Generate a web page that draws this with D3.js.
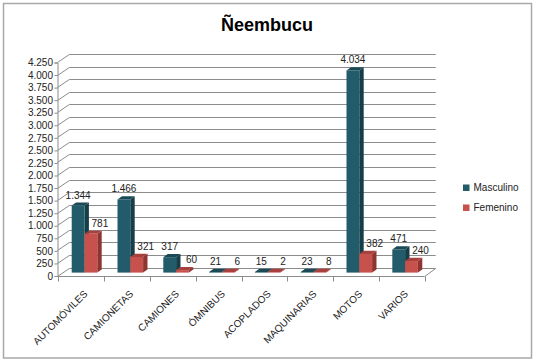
<!DOCTYPE html>
<html>
<head>
<meta charset="utf-8">
<script src="https://d3js.org/d3.v7.min.js"></script>
<style>
  body { margin: 0; background: #fff; }
  svg text { font-family: "Liberation Sans", Arial, sans-serif; }
</style>
</head>
<body>
<div id="chart"></div>
<script>
// data
var categories = ["AUTOMÓVILES", "CAMIONETAS", "CAMIONES", "ÓMNIBUS", "ACOPLADOS", "MAQUINARIAS", "MOTOS", "VARIOS"];
var masculino = [1344, 1466, 317, 21, 15, 23, 4034, 471];
var femenino = [781, 321, 60, 6, 2, 8, 382, 240];
var seriesNames = ["Masculino", "Femenino"];
var yTicks = d3.range(0, 4251, 250);

var width = 535, height = 361;

// 3d depth of the floor / walls
var DX = 11, DY = -8;
var f0 = 0.3, f1 = 0.7; // bar depth fraction

var colors = {
  Masculino: { front: "#225b6a", side: "#163e49", top: "#1b4a57" },
  Femenino:  { front: "#c6514d", side: "#8e3532", top: "#a8413e" }
};

var loc = d3.formatLocale({ decimal: ",", thousands: ".", grouping: [3], currency: ["", ""] });
var fmt = loc.format(",d");

var svg = d3.select("#chart").append("svg")
  .attr("width", width)
  .attr("height", height);

// chart border
svg.append("rect")
  .attr("x", 3.5).attr("y", 3.5)
  .attr("width", 528).attr("height", 354.5)
  .attr("fill", "#fff")
  .attr("stroke", "#a9a9a9")
  .attr("stroke-width", 1.5);

svg.append("text")
  .attr("x", 267).attr("y", 31)
  .attr("text-anchor", "middle")
  .style("font-size", "18px")
  .style("font-weight", "bold")
  .text("Ñeembucu");

var x = d3.scaleBand().domain(categories).range([58.3, 424.7]);
var xs = d3.scaleBand().domain(seriesNames).range([0, x.bandwidth()]).paddingOuter(0.79);
var y = d3.scaleLinear().domain([0, 4250]).range([275.5, 62]);

var x0 = x.range()[0], x1 = x.range()[1];
var gridColor = "#8c8c8c";

// back wall gridlines + side wall diagonals
var grid = svg.append("g");
yTicks.forEach(function(t) {
  var yy = Math.round(y(t)) + 0.5;
  grid.append("line")
    .attr("x1", x0 + DX).attr("x2", x1 + DX)
    .attr("y1", yy + DY).attr("y2", yy + DY)
    .attr("stroke", gridColor);
  grid.append("line")
    .attr("x1", x0 - 0.8).attr("x2", x0 + DX)
    .attr("y1", yy).attr("y2", yy + DY)
    .attr("stroke", gridColor);
});

// floor
var floorY = Math.round(y(0)) + 0.5;
grid.append("path")
  .attr("d", "M" + x0 + "," + floorY + "L" + x1 + "," + floorY + "L" + (x1 + DX) + "," + (floorY + DY))
  .attr("fill", "none")
  .attr("stroke", gridColor);

// value axis
var yAxis = d3.axisLeft(y).tickValues(yTicks).tickSize(3).tickFormat(fmt);
var ya = svg.append("g")
  .attr("transform", "translate(" + (x0 - 0.8) + ",0.5)")
  .call(yAxis);
ya.select(".domain").attr("stroke", gridColor);
ya.selectAll(".tick line").attr("stroke", gridColor);
ya.selectAll(".tick text").style("font-size", "10px").attr("fill", "#222").attr("x", -4.5);

// category axis ticks and labels
var xa = svg.append("g");
d3.range(categories.length + 1).forEach(function(i) {
  var xx = Math.round(x0 + i * x.step()) + 0.5;
  xa.append("line")
    .attr("x1", xx).attr("x2", xx)
    .attr("y1", floorY).attr("y2", floorY + 5)
    .attr("stroke", gridColor);
});
xa.selectAll(".cat")
  .data(categories)
  .enter().append("text")
  .attr("class", "cat")
  .attr("text-anchor", "end")
  .attr("transform", function(d) {
    return "translate(" + (x(d) + x.bandwidth() / 2 + 7) + "," + (floorY + 18) + ") rotate(-45)";
  })
  .style("font-size", "10px")
  .attr("fill", "#222")
  .text(function(d) { return d; });

// bars
var rows = [];
categories.forEach(function(c, i) {
  rows.push({ cat: c, s: "Masculino", v: masculino[i] });
  rows.push({ cat: c, s: "Femenino", v: femenino[i] });
});

var sx0 = DX * f0, sy0 = DY * f0;
var sdx = DX * (f1 - f0), sdy = DY * (f1 - f0);

var bars = svg.selectAll(".bar")
  .data(rows)
  .enter().append("g")
  .attr("class", "bar");

bars.each(function(d) {
  var g = d3.select(this);
  var bx = x(d.cat) + xs(d.s) + sx0;
  var bw = xs.bandwidth();
  var by0 = y(0) + sy0 - 0.5;
  var by1 = y(d.v) + sy0;
  var h = Math.max(by0 - by1, 0.6);
  var c = colors[d.s];
  g.append("path")
    .attr("d", "M" + (bx + bw) + "," + (by0) + "L" + (bx + bw + sdx) + "," + (by0 + sdy) +
      "L" + (bx + bw + sdx) + "," + (by0 - h + sdy) + "L" + (bx + bw) + "," + (by0 - h) + "Z")
    .attr("fill", c.side);
  g.append("path")
    .attr("d", "M" + bx + "," + (by0 - h) + "L" + (bx + bw) + "," + (by0 - h) +
      "L" + (bx + bw + sdx) + "," + (by0 - h + sdy) + "L" + (bx + sdx) + "," + (by0 - h + sdy) + "Z")
    .attr("fill", c.top);
  g.append("rect")
    .attr("x", bx).attr("y", by0 - h)
    .attr("width", bw).attr("height", h)
    .attr("fill", c.front);
  var lx = bx + bw / 2 + (d.s === "Femenino" ? 9 : 0);
  g.append("text")
    .attr("x", lx)
    .attr("y", by0 - h - 7)
    .attr("text-anchor", "middle")
    .style("font-size", "10px")
    .attr("fill", "#222")
    .text(fmt(d.v));
});

// legend
var legend = svg.selectAll(".legend")
  .data(seriesNames)
  .enter().append("g")
  .attr("class", "legend")
  .attr("transform", function(d, i) { return "translate(463," + (184.5 + i * 20) + ")"; });
legend.append("rect")
  .attr("width", 6.5).attr("height", 6.5)
  .attr("fill", function(d) { return colors[d].front; });
legend.append("text")
  .attr("x", 10.5).attr("y", 3.3).attr("dy", "0.35em")
  .style("font-size", "10px")
  .attr("fill", "#222")
  .text(function(d) { return d; });
</script>
</body>
</html>
